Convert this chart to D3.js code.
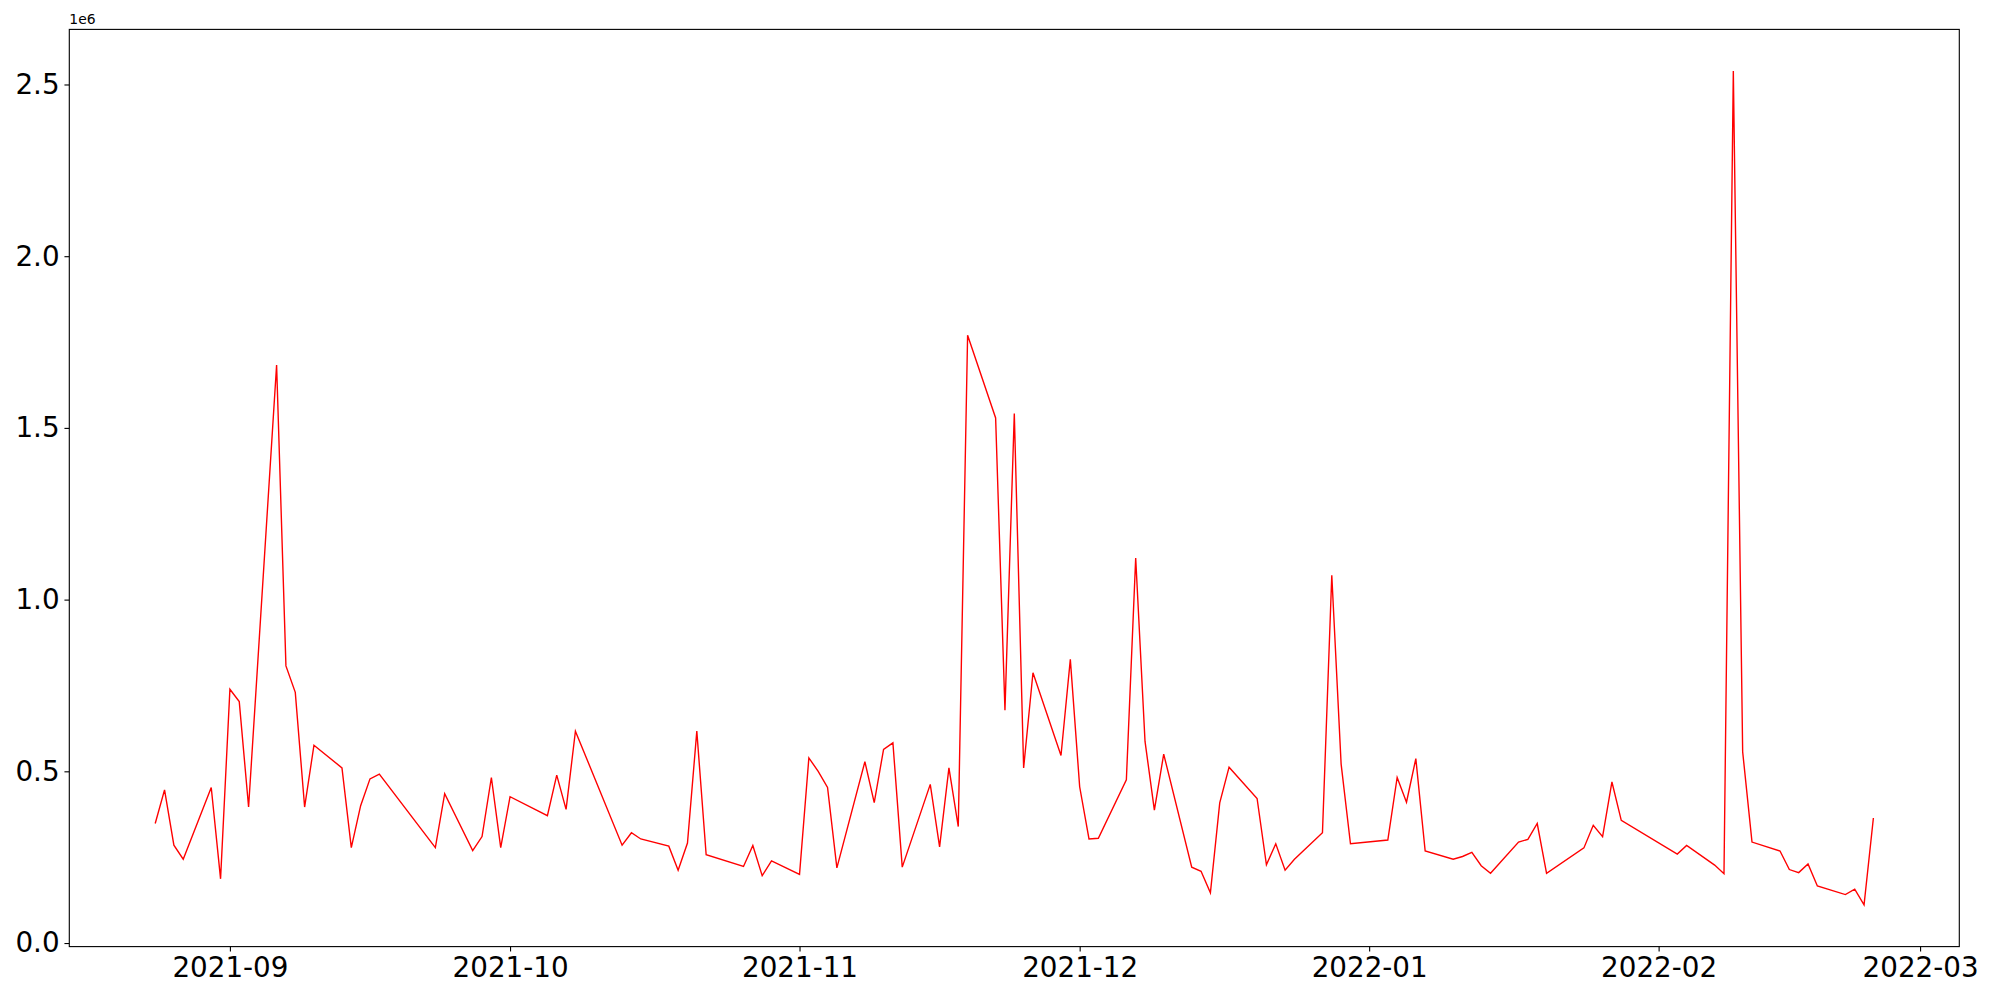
<!DOCTYPE html>
<html>
<head>
<meta charset="utf-8">
<script src="https://cdn.jsdelivr.net/npm/d3@7"></script>
<style>
  body { margin: 0; background: #fff; }
  text { font-family: "DejaVu Sans", sans-serif; }
</style>
</head>
<body>
<div id="chart"></div>
<script>
// dates (trading days) and values
const dates = [
  '2021-08-24','2021-08-25','2021-08-26','2021-08-27','2021-08-30','2021-08-31',
  '2021-09-01','2021-09-02','2021-09-03','2021-09-06','2021-09-07','2021-09-08','2021-09-09','2021-09-10',
  '2021-09-13','2021-09-14','2021-09-15','2021-09-16','2021-09-17','2021-09-23','2021-09-24',
  '2021-09-27','2021-09-28','2021-09-29','2021-09-30','2021-10-01','2021-10-05','2021-10-06','2021-10-07','2021-10-08',
  '2021-10-13','2021-10-14','2021-10-15','2021-10-18','2021-10-19','2021-10-20','2021-10-21','2021-10-22',
  '2021-10-26','2021-10-27','2021-10-28','2021-10-29','2021-11-01','2021-11-02','2021-11-03','2021-11-04','2021-11-05',
  '2021-11-08','2021-11-09','2021-11-10','2021-11-11','2021-11-12','2021-11-15','2021-11-16','2021-11-17','2021-11-18','2021-11-19',
  '2021-11-22','2021-11-23','2021-11-24','2021-11-25','2021-11-26','2021-11-29','2021-11-30','2021-12-01','2021-12-02','2021-12-03',
  '2021-12-06','2021-12-07','2021-12-08','2021-12-09','2021-12-10','2021-12-13','2021-12-14','2021-12-15','2021-12-16','2021-12-17',
  '2021-12-20','2021-12-21','2021-12-22','2021-12-23','2021-12-24','2021-12-27','2021-12-28','2021-12-29','2021-12-30',
  '2022-01-03','2022-01-04','2022-01-05','2022-01-06','2022-01-07','2022-01-10','2022-01-11','2022-01-12','2022-01-13','2022-01-14',
  '2022-01-17','2022-01-18','2022-01-19','2022-01-20','2022-01-24','2022-01-25','2022-01-26','2022-01-27','2022-01-28',
  '2022-02-03','2022-02-04','2022-02-07','2022-02-08','2022-02-09','2022-02-10','2022-02-11',
  '2022-02-14','2022-02-15','2022-02-16','2022-02-17','2022-02-18','2022-02-21','2022-02-22','2022-02-23','2022-02-24'
];
const values = [
  348000, 446000, 285000, 244000, 453000, 187000,
  739000, 703000, 396000, 1683000, 807000, 730000, 396000, 576000,
  510000, 278000, 400000, 478000, 492000, 278000, 435000,
  269000, 310000, 482000, 278000, 426000, 371000, 489000, 389000, 617000,
  285000, 321000, 303000, 282000, 212000, 291000, 617000, 257000,
  223000, 284000, 196000, 239000, 200000, 539000, 500000, 453000, 219000,
  528000, 409000, 564000, 583000, 221000, 462000, 280000, 510000, 339000, 1770000,
  1529000, 678000, 1542000, 510000, 787000, 546000, 826000, 455000, 303000, 305000,
  475000, 1121000, 587000, 387000, 550000, 221000, 209000, 146000, 408000, 512000,
  421000, 228000, 289000, 212000, 244000, 321000, 1071000, 521000, 289000,
  300000, 482000, 410000, 537000, 268000, 244000, 252000, 264000, 225000, 203000,
  294000, 302000, 348000, 203000, 277000, 343000, 310000, 469000, 357000,
  259000, 284000, 227000, 202000, 2539000, 557000, 294000,
  268000, 214000, 205000, 230000, 166000, 141000, 157000, 111000, 364000
];
const yTicks = [0, 500000, 1000000, 1500000, 2000000, 2500000];

const width = 2000, height = 1000;
const margin = { left: 69.3, right: 40.7, top: 29.4, bottom: 53.4 };
const pt = 100 / 72;

const parse = d3.utcParse('%Y-%m-%d');
const data = dates.map((d, i) => ({ date: parse(d), value: values[i] }));

// matplotlib-like 5% margins
const xExt = d3.extent(data, d => +d.date);
const xPad = (xExt[1] - xExt[0]) * 0.05;
const yExt = d3.extent(values);
const yPad = (yExt[1] - yExt[0]) * 0.05;

const x = d3.scaleUtc()
  .domain([new Date(xExt[0] - xPad), new Date(xExt[1] + xPad)])
  .range([margin.left, width - margin.right]);
const y = d3.scaleLinear()
  .domain([yExt[0] - yPad, yExt[1] + yPad])
  .range([height - margin.bottom, margin.top]);

const svg = d3.select('#chart').append('svg')
  .attr('width', width)
  .attr('height', height);

const line = d3.line()
  .x(d => x(d.date))
  .y(d => y(d.value));

svg.append('path')
  .datum(data)
  .attr('fill', 'none')
  .attr('stroke', '#ff0000')
  .attr('stroke-width', 1.0 * pt)
  .attr('stroke-linejoin', 'miter')
  .attr('d', line);

const xAxis = svg.append('g')
  .attr('transform', 'translate(0,' + (height - margin.bottom) + ')')
  .call(d3.axisBottom(x)
    .ticks(d3.utcMonth.every(1))
    .tickFormat(d3.utcFormat('%Y-%m'))
    .tickSize(3.5 * pt)
    .tickPadding(3.5 * pt));

const yAxis = svg.append('g')
  .attr('transform', 'translate(' + margin.left + ',0)')
  .call(d3.axisLeft(y)
    .tickValues(yTicks)
    .tickFormat(d => (d / 1e6).toFixed(1))
    .tickSize(3.5 * pt)
    .tickPadding(3.5 * pt));

[xAxis, yAxis].forEach(g => {
  g.select('.domain').remove();
  g.selectAll('.tick line').attr('stroke', '#000').attr('stroke-width', 0.8 * pt);
  g.selectAll('.tick text')
    .attr('fill', '#000')
    .style('font-family', '"DejaVu Sans", sans-serif')
    .style('font-size', (20 * pt) + 'px');
});
xAxis.selectAll('.tick text').attr('dy', '0.76em');

// axes frame
svg.append('rect')
  .attr('x', margin.left)
  .attr('y', margin.top)
  .attr('width', width - margin.left - margin.right)
  .attr('height', height - margin.top - margin.bottom)
  .attr('fill', 'none')
  .attr('stroke', '#000')
  .attr('stroke-width', 0.8 * pt);

// offset label
svg.append('text')
  .attr('x', margin.left)
  .attr('y', margin.top - 5)
  .style('font-size', '13.9px')
  .attr('fill', '#000')
  .text('1e6');
</script>
</body>
</html>
